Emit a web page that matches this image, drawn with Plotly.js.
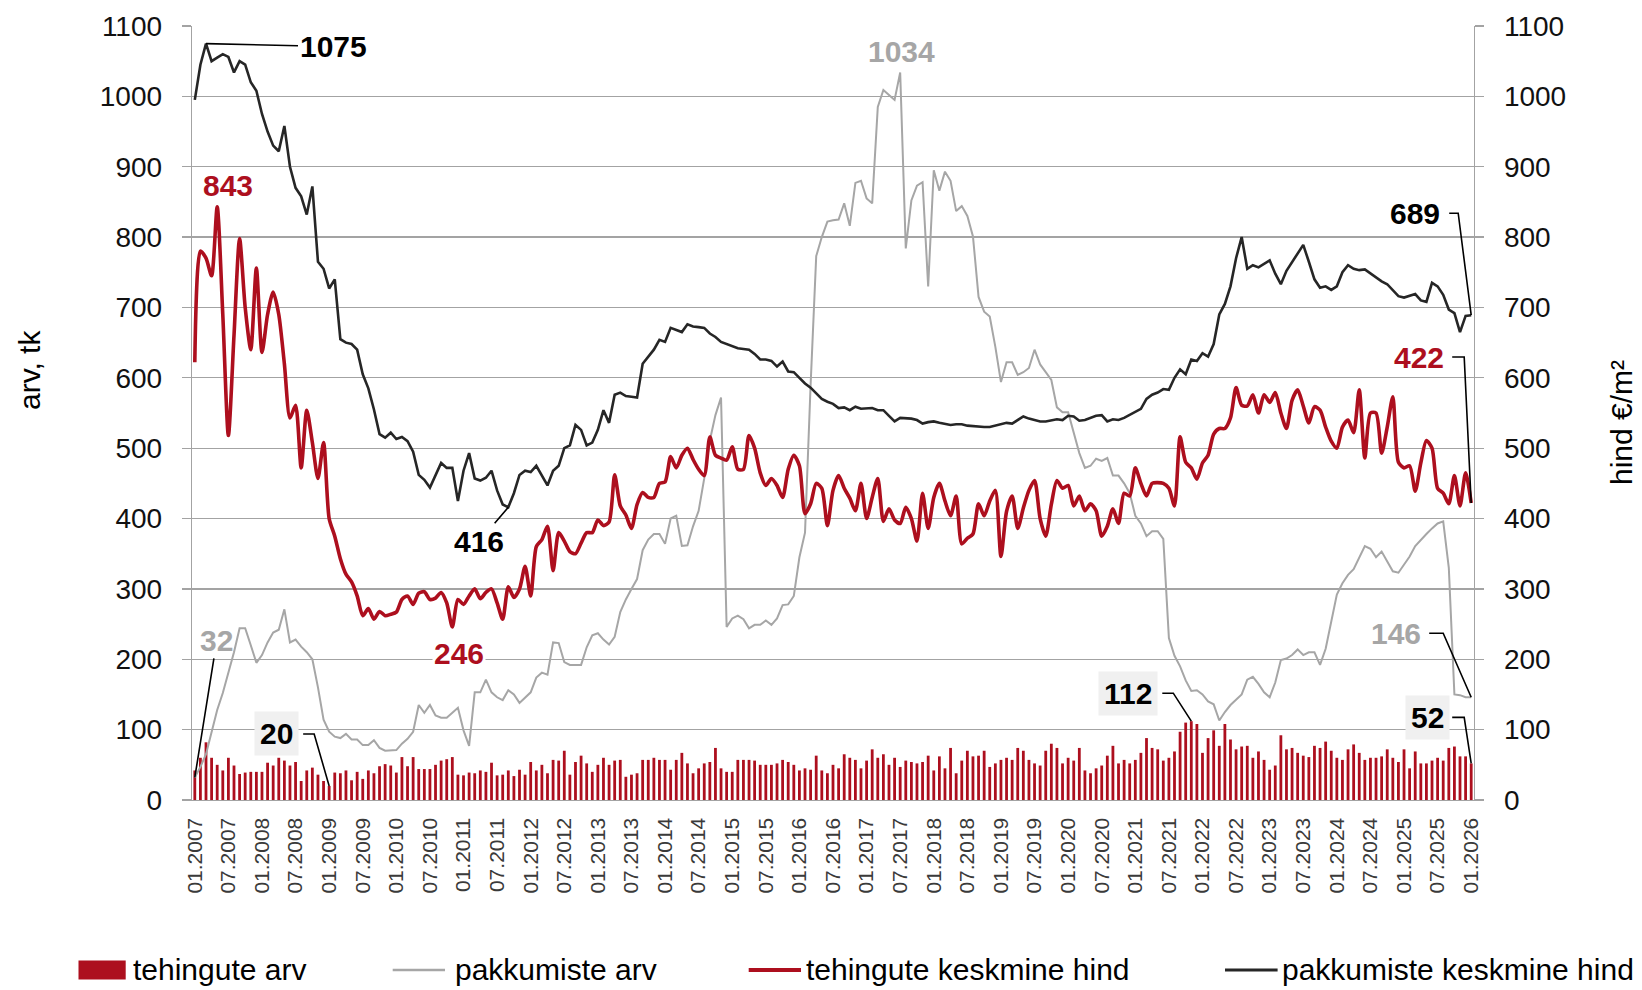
<!DOCTYPE html>
<html>
<head>
<meta charset="utf-8">
<script src="https://cdn.plot.ly/plotly-3.0.1.min.js"></script>
<style>
  html, body { margin: 0; padding: 0; background: #ffffff; }
  #chart { width: 1642px; height: 990px; }
</style>
</head>
<body>
<div id="chart"></div>
<script>
// ---- categories: monthly, 01.2007 .. 01.2026 ----
const firstYear = 2007, lastYear = 2026, lastMonth = 1;
const months = [];
for (let y = firstYear; y <= lastYear; y++) {
  for (let m = 1; m <= 12; m++) {
    if (y === lastYear && m > lastMonth) break;
    months.push(String(m).padStart(2, '0') + '.' + y);
  }
}

// ---- tick labels (every 6 months) ----
const tickLabels = [
  '01.2007','07.2007','01.2008','07.2008','01.2009','07.2009','01.2010','07.2010',
  '01.2011','07.2011','01.2012','07.2012','01.2013','07.2013','01.2014','07.2014',
  '01.2015','07.2015','01.2016','07.2016','01.2017','07.2017','01.2018','07.2018',
  '01.2019','07.2019','01.2020','07.2020','01.2021','07.2021','01.2022','07.2022',
  '01.2023','07.2023','01.2024','07.2024','01.2025','07.2025','01.2026'
];

// ---- series: tehingute arv (bars, left axis) ----
const dealsCount = [
  42,60,82,60,50,42,60,49,37,39,
  40,40,40,53,49,60,56,49,54,27,
  42,46,36,27,20,39,38,42,28,40,
  30,42,38,48,51,49,39,61,48,61,
  44,44,44,50,56,58,61,36,35,39,
  38,42,40,53,35,36,42,34,43,36,
  54,42,50,38,57,56,70,36,54,63,
  52,40,50,60,50,56,57,33,36,38,
  57,57,60,57,57,43,57,67,52,38,
  45,52,54,74,45,40,40,57,57,57,
  56,50,50,50,52,57,54,50,42,45,
  43,63,42,38,50,45,65,60,57,45,
  56,72,60,65,50,60,47,56,54,52,
  54,63,42,62,45,74,38,56,70,62,
  63,70,47,52,57,60,57,74,70,57,
  52,49,70,80,74,52,60,56,74,42,
  38,45,49,63,77,52,57,52,57,67,
  88,74,72,56,60,69,97,110,112,108,
  67,88,99,77,108,86,72,76,77,60,
  69,57,43,49,92,72,74,67,63,61,
  77,74,83,70,60,57,72,79,67,57,
  60,60,62,72,60,54,72,45,69,52,
  52,56,60,56,74,76,62,62,52
];

// ---- series: pakkumiste arv (grey line, left axis) ----
const offersCount = [
  32,47,65,95,128,152,180,210,244,244,
  220,195,206,224,238,242,271,224,228,218,
  210,200,160,114,97,90,88,94,86,86,
  78,78,85,74,70,70,71,80,87,97,
  135,124,135,120,117,117,124,131,99,77,
  153,153,171,153,146,142,156,150,138,146,
  153,174,181,178,224,223,196,192,192,192,
  217,234,237,228,221,232,267,285,300,314,
  355,370,378,378,364,400,404,361,362,389,
  411,457,511,547,572,246,258,262,257,244,
  249,249,255,249,258,277,278,290,345,380,
  590,773,800,822,824,825,848,816,877,880,
  855,848,985,1009,1002,995,1034,784,852,873,
  878,730,895,866,893,880,837,844,830,801,
  715,694,687,644,594,622,622,604,608,614,
  640,619,608,597,558,551,551,522,493,472,
  475,485,482,486,461,461,450,436,404,393,
  375,382,382,371,230,205,190,170,155,156,
  150,140,136,113,125,135,142,150,171,175,
  165,153,146,167,199,201,206,214,206,210,
  210,192,215,255,292,308,320,328,345,361,
  357,345,353,339,325,323,335,346,361,370,
  378,386,393,396,330,150,149,146,146
];

// ---- series: tehingute keskmine hind (red line, right axis) ----
const dealPrice = [
  622,780,770,745,843,690,518,660,798,700,
  640,756,636,690,722,690,620,543,561,472,
  554,508,457,508,400,375,343,321,310,290,
  262,272,257,268,262,264,267,285,290,278,
  294,296,285,287,295,280,246,285,278,290,
  300,286,295,300,280,257,303,288,300,332,
  290,360,370,389,326,380,368,353,350,365,
  380,380,398,390,395,462,418,405,386,420,
  437,430,430,450,452,488,472,490,500,484,
  470,461,516,490,486,483,502,470,470,518,
  500,465,447,457,447,430,470,490,475,407,
  421,450,443,390,440,461,443,429,411,450,
  400,430,457,396,414,398,393,416,400,368,
  436,386,430,450,425,404,432,364,372,378,
  421,404,425,440,346,410,432,386,415,440,
  454,400,375,420,454,443,447,418,432,411,
  421,411,375,389,414,393,436,432,472,450,
  432,450,451,450,443,418,516,480,472,456,
  479,490,520,528,528,543,586,561,560,576,
  550,576,565,579,550,528,568,583,560,536,
  559,554,530,510,500,530,540,522,583,486,
  550,550,493,530,573,480,472,475,439,479,
  511,500,443,436,421,461,418,465,422
];

// ---- series: pakkumiste keskmine hind (black line, right axis) ----
const offerPrice = [
  995,1045,1075,1050,1055,1060,1056,1034,1050,1045,
  1020,1008,975,950,930,922,958,900,870,858,
  832,872,765,755,727,740,655,650,648,640,
  605,585,555,520,515,522,513,516,510,495,
  462,455,444,462,479,472,472,425,468,493,
  457,454,458,468,440,420,416,436,462,468,
  466,475,461,447,468,475,500,504,533,526,
  504,508,526,554,536,576,579,574,573,572,
  620,630,640,654,651,671,668,665,676,673,
  672,671,663,658,651,648,646,642,641,640,
  634,626,626,624,616,623,609,608,600,592,
  586,578,570,566,563,557,558,554,559,556,
  556,557,554,554,546,538,543,543,542,540,
  535,537,538,536,534,533,534,534,532,531,
  530,530,530,532,534,536,535,540,545,542,
  540,538,538,539,541,540,546,545,539,540,
  543,546,547,538,541,540,543,547,552,556,
  570,576,579,584,583,600,612,605,626,624,
  635,630,648,690,705,730,770,800,755,760,
  757,762,767,748,733,752,765,778,789,765,
  740,728,730,725,730,750,760,755,753,754,
  748,742,737,733,725,716,714,716,719,710,
  708,735,730,718,697,692,665,688,689
];

const seriesNames = ['tehingute arv', 'pakkumiste arv', 'tehingute keskmine hind', 'pakkumiste keskmine hind'];
const axisTitles = ['arv, tk', 'hind €/m²'];
const yTicks = [0,100,200,300,400,500,600,700,800,900,1000,1100];

// ---- styling ----
const FONT = 'Liberation Sans, Arial, Helvetica, sans-serif';
const RED = '#ad0f1e';
const GREY = '#a6a6a6';
const BLACK = '#262626';
const GRID = '#a3a3a3';
const W = 1642, H = 990, ML = 192, MR = 168, MT = 26, MB = 190;
const PW = W - ML - MR, PH = H - MT - MB;
const px2x = p => (p - ML) / PW;            // page pixel -> paper x
const px2y = p => (H - MB - p) / PH;        // page pixel -> paper y

const idxs = months.map((_, i) => i);

const traces = [
  { type: 'bar', x: idxs, y: dealsCount, name: seriesNames[0], yaxis: 'y',
    marker: { color: RED, line: { width: 0 } }, showlegend: false },
  { type: 'scatter', mode: 'lines', x: idxs, y: offersCount, name: seriesNames[1], yaxis: 'y',
    line: { color: GREY, width: 2 }, showlegend: false },
  { type: 'scatter', mode: 'lines', x: idxs, y: dealPrice, name: seriesNames[2], yaxis: 'y2',
    line: { color: RED, width: 3.6, shape: 'spline', smoothing: 0.7 }, showlegend: false },
  { type: 'scatter', mode: 'lines', x: idxs, y: offerPrice, name: seriesNames[3], yaxis: 'y2',
    line: { color: BLACK, width: 2.6 }, showlegend: false }
];

const last = months.length - 1;
const iPeakOffer = offerPrice.indexOf(Math.max(...offerPrice));
const iPeakDeal = dealPrice.indexOf(Math.max(...dealPrice));
const iPeakOffers = offersCount.indexOf(Math.max(...offersCount));
const iMinOffer = offerPrice.indexOf(Math.min(...offerPrice.slice(0, 120)));
const iMinDeal = dealPrice.indexOf(Math.min(...dealPrice));
const iMinDeals = dealsCount.indexOf(Math.min(...dealsCount));
const iMaxDeals = dealsCount.indexOf(Math.max(...dealsCount));

function lab(i, arr, yref, color, opts) {
  return Object.assign({
    x: i, y: arr[i], xref: 'x', yref: yref,
    text: '<b>' + arr[i] + '</b>',
    font: { family: FONT, size: 30, color: color },
    showarrow: true, arrowhead: 0, arrowwidth: 1.6, arrowcolor: '#000000',
    standoff: 0, axref: 'pixel', ayref: 'pixel'
  }, opts);
}

const shapes = [];
// elbow leader line: short horizontal stub next to the label, then down to the data point
function elbowLabel(i, arr, yref, color, dx, dy, s0, s1, extra) {
  shapes.push({
    type: 'path', xref: 'x', yref: yref, xsizemode: 'pixel', ysizemode: 'pixel',
    xanchor: i, yanchor: arr[i],
    path: 'M0,0 L' + s1 + ',' + dy + ' L' + s0 + ',' + dy,
    line: { color: '#000000', width: 1.6 }
  });
  return lab(i, arr, yref, color, Object.assign({ showarrow: false, xshift: dx, yshift: dy }, extra || {}));
}

const GREYBOX = { bgcolor: '#f0f0f0', borderpad: 5 };
const annotations = [
  lab(iPeakOffer, offerPrice, 'y2', '#000000', { ax: 127, ay: 3 }),
  lab(iPeakDeal, dealPrice, 'y2', RED, { showarrow: false, xshift: 11, yshift: 21, bgcolor: '#ffffff' }),
  lab(iPeakOffers, offersCount, 'y', GREY, { showarrow: false, xshift: 1, yshift: 21 }),
  lab(iMinOffer, offerPrice, 'y2', '#000000', { ax: -29, ay: 34 }),
  lab(iMinDeal, dealPrice, 'y2', RED, { showarrow: false, xshift: 7, yshift: -27, bgcolor: '#ffffff' }),
  lab(0, offersCount, 'y', GREY, { ax: 22, ay: -137 }),
  elbowLabel(iMinDeals, dealsCount, 'y', '#000000', -53, 52, -26, -15, GREYBOX),
  elbowLabel(iMaxDeals, dealsCount, 'y', '#000000', -63, 28, -29, -18, GREYBOX),
  elbowLabel(last, offerPrice, 'y2', '#000000', -56, 102, -22, -13),
  elbowLabel(last, dealPrice, 'y2', RED, -52, 146, -19, -7),
  elbowLabel(last, offersCount, 'y', GREY, -75, 64, -42, -28),
  elbowLabel(last, dealsCount, 'y', '#000000', -44, 46, -19, -7, GREYBOX),
  // axis titles
  { xref: 'paper', yref: 'paper', x: px2x(29), y: px2y(370), text: axisTitles[0], textangle: -90,
    showarrow: false, font: { family: FONT, size: 30, color: '#000000' }, xanchor: 'center', yanchor: 'middle' },
  { xref: 'paper', yref: 'paper', x: px2x(1621), y: px2y(422), text: axisTitles[1], textangle: -90,
    showarrow: false, font: { family: FONT, size: 30, color: '#000000' }, xanchor: 'center', yanchor: 'middle' }
];

// ---- legend (drawn as paper shapes + texts, placed as in the reference) ----
const legendY = 970;
const legendItems = [
  { kind: 'rect', x0: 78.5, x1: 125.7, color: RED, width: 0, textX: 131 },
  { kind: 'line', x0: 392.7, x1: 445, color: GREY, width: 2.6, textX: 453 },
  { kind: 'line', x0: 748.7, x1: 801, color: RED, width: 4, textX: 804 },
  { kind: 'line', x0: 1225, x1: 1277.6, color: BLACK, width: 3, textX: 1280 }
];
legendItems.forEach((it, k) => {
  if (it.kind === 'rect') {
    shapes.push({ type: 'rect', xref: 'paper', yref: 'paper',
      x0: px2x(it.x0), x1: px2x(it.x1), y0: px2y(legendY - 9.5), y1: px2y(legendY + 9.5),
      fillcolor: it.color, line: { width: 0 } });
  } else {
    shapes.push({ type: 'line', xref: 'paper', yref: 'paper',
      x0: px2x(it.x0), x1: px2x(it.x1), y0: px2y(legendY), y1: px2y(legendY),
      line: { color: it.color, width: it.width } });
  }
  annotations.push({ xref: 'paper', yref: 'paper', x: px2x(it.textX), y: px2y(legendY - 1),
    xanchor: 'left', yanchor: 'middle', showarrow: false, text: seriesNames[k],
    font: { family: FONT, size: 30, color: '#000000' } });
});

const axisY = {
  range: [0, 1100], tickvals: yTicks, ticktext: yTicks.map(String),
  tickfont: { family: FONT, size: 28, color: '#111111' },
  ticks: 'outside', ticklen: 9, tickwidth: 1.3, tickcolor: GRID,
  showline: true, linecolor: GRID, linewidth: 1.3,
  zeroline: false, fixedrange: true, ticklabelstandoff: 14
};

const layout = {
  width: W, height: H,
  margin: { l: ML, r: MR, t: MT, b: MB, autoexpand: false },
  paper_bgcolor: '#ffffff', plot_bgcolor: 'rgba(0,0,0,0)',
  font: { family: FONT, color: '#000000' },
  bargap: 0.5,
  showlegend: false,
  xaxis: {
    type: 'linear',
    range: [-0.5, months.length - 0.5],
    tickmode: 'array', tickvals: tickLabels.map(t => months.indexOf(t)), ticktext: tickLabels,
    tickangle: -90, tickfont: { family: FONT, size: 21, color: '#3a3a3a' },
    ticks: '', showgrid: false, showline: true, linecolor: GRID, linewidth: 1.3,
    zeroline: false, fixedrange: true, ticklabelstandoff: 8
  },
  yaxis: Object.assign({}, axisY, { side: 'left', showgrid: true, gridcolor: GRID, gridwidth: 1.3 }),
  yaxis2: Object.assign({}, axisY, { side: 'right', overlaying: 'y', showgrid: false }),
  shapes: shapes,
  annotations: annotations
};

Plotly.newPlot('chart', traces, layout, { displayModeBar: false, staticPlot: true });
</script>
</body>
</html>
